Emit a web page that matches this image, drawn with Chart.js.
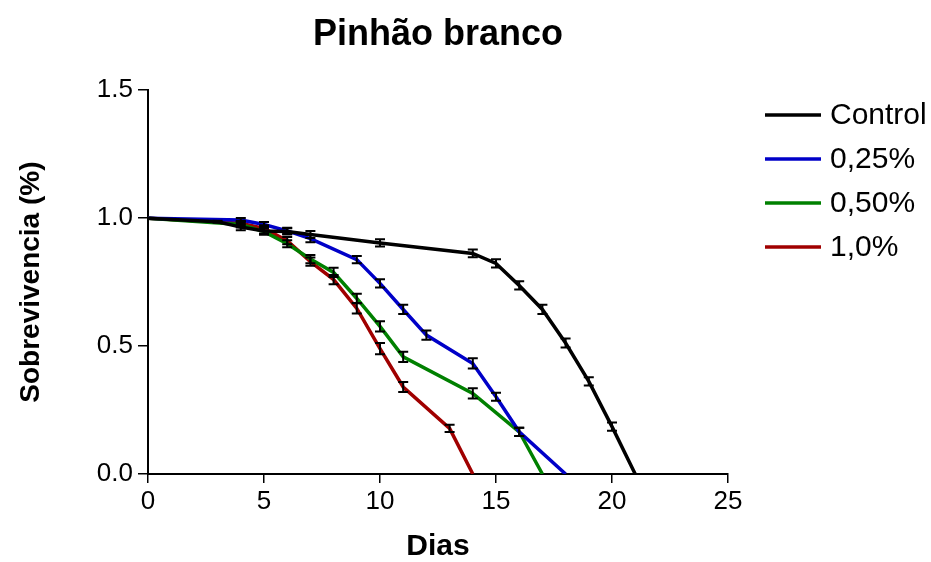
<!DOCTYPE html>
<html>
<head>
<meta charset="utf-8">
<title>Pinhão branco</title>
<script src="https://cdn.jsdelivr.net/npm/chart.js@4.4.1/dist/chart.umd.min.js"></script>
<style>
  html, body { margin: 0; padding: 0; background: #fff; }
  #chart { display: block; }
</style>
</head>
<body>
<canvas id="chart" width="931" height="562"></canvas>
<script>
// Survival data (days, fraction alive, error)
const controlDays = [0, 3, 4, 5, 6, 7, 10, 14, 15, 16, 17, 18, 19, 20, 21];
const controlVals = [1.0, 0.986, 0.965, 0.95, 0.948, 0.936, 0.903, 0.862, 0.823, 0.737, 0.643, 0.512, 0.362, 0.185, 0.0];
const controlErr  = [0, 0.004, 0.012, 0.012, 0.012, 0.014, 0.014, 0.015, 0.016, 0.016, 0.018, 0.018, 0.016, 0.016, 0];

const d025Days = [0, 4, 5, 6, 7, 9, 10, 11, 12, 14, 15, 16, 18];
const d025Vals = [1.0, 0.993, 0.975, 0.95, 0.92, 0.838, 0.745, 0.643, 0.543, 0.432, 0.302, 0.165, 0.0];
const d025Err  = [0, 0.008, 0.01, 0.012, 0.014, 0.014, 0.016, 0.018, 0.018, 0.02, 0.016, 0.016, 0];

const d050Days = [0, 4, 5, 6, 7, 8, 9, 10, 11, 14, 16, 17];
const d050Vals = [1.0, 0.975, 0.947, 0.9, 0.84, 0.788, 0.686, 0.577, 0.458, 0.315, 0.165, 0.0];
const d050Err  = [0, 0.012, 0.012, 0.014, 0.016, 0.018, 0.018, 0.02, 0.02, 0.02, 0.016, 0];

const d100Days = [0, 4, 5, 6, 7, 8, 9, 10, 11, 13, 14];
const d100Vals = [1.0, 0.98, 0.96, 0.912, 0.83, 0.76, 0.647, 0.49, 0.34, 0.178, 0.0];
const d100Err  = [0, 0.01, 0.012, 0.014, 0.016, 0.018, 0.02, 0.022, 0.02, 0.014, 0];

const seriesLabels = ['Control', '0,25%', '0,50%', '1,0%'];
const seriesColors = ['#000000', '#0000c8', '#008000', '#a00000'];

const xTicksMax = 25;
const yTicksMax = 1.5;

const FONT = '"Liberation Sans", Arial, Helvetica, sans-serif';
Chart.defaults.font.family = FONT;
Chart.defaults.color = '#000';

function toPoints(days, vals) {
  return days.map((d, i) => ({ x: d, y: vals[i] }));
}

const allDays = [controlDays, d025Days, d050Days, d100Days];
const allVals = [controlVals, d025Vals, d050Vals, d100Vals];
const allErr  = [controlErr, d025Err, d050Err, d100Err];

// Black error bars drawn on top of the lines
const errorBarPlugin = {
  id: 'errorBars',
  afterDatasetsDraw(chart) {
    const ctx = chart.ctx;
    const xs = chart.scales.x, ys = chart.scales.y;
    ctx.save();
    ctx.strokeStyle = '#000';
    ctx.lineWidth = 2;
    chart.data.datasets.forEach(ds => {
      ds.data.forEach((p, j) => {
        const e = ds.errors[j];
        if (!e) return;
        const px = xs.getPixelForValue(p.x);
        const top = ys.getPixelForValue(p.y + e);
        const bot = ys.getPixelForValue(p.y - e);
        ctx.beginPath();
        ctx.moveTo(px, top); ctx.lineTo(px, bot);
        ctx.moveTo(px - 5, top); ctx.lineTo(px + 5, top);
        ctx.moveTo(px - 5, bot); ctx.lineTo(px + 5, bot);
        ctx.stroke();
      });
    });
    ctx.restore();
  }
};

// Legend on the right, line swatch + label
const sideLegendPlugin = {
  id: 'sideLegend',
  afterDraw(chart) {
    const ctx = chart.ctx;
    const left = chart.chartArea.right + 37;
    ctx.save();
    ctx.font = '30px ' + FONT;
    ctx.textBaseline = 'middle';
    ctx.textAlign = 'left';
    chart.data.datasets.forEach((ds, i) => {
      const y = 115 + i * 44;
      ctx.strokeStyle = ds.borderColor;
      ctx.lineWidth = 3.5;
      ctx.beginPath();
      ctx.moveTo(left, y); ctx.lineTo(left + 56, y);
      ctx.stroke();
      ctx.fillStyle = '#000';
      ctx.fillText(ds.label, left + 65, y + 1);
    });
    ctx.restore();
  }
};

const datasets = seriesLabels.map((label, i) => ({
  label: label,
  data: toPoints(allDays[i], allVals[i]),
  errors: allErr[i],
  borderColor: seriesColors[i],
  backgroundColor: seriesColors[i],
  borderWidth: 3.5,
  pointRadius: 0,
  tension: 0,
  fill: false
}));

new Chart(document.getElementById('chart'), {
  type: 'line',
  data: { datasets: datasets },
  plugins: [errorBarPlugin, sideLegendPlugin],
  options: {
    responsive: false,
    animation: false,
    layout: { padding: { top: 0, right: 203, bottom: 0, left: 0 } },
    plugins: {
      legend: { display: false },
      tooltip: { enabled: false },
      title: {
        display: true,
        text: 'Pinhão branco',
        fullSize: false,
        color: '#000',
        font: { size: 36, weight: 'bold' },
        padding: { top: 13, bottom: 34 }
      }
    },
    scales: {
      x: {
        type: 'linear',
        min: 0,
        max: xTicksMax,
        afterFit(scale) { scale.height = 88; },
        ticks: { stepSize: 5, font: { size: 26 }, color: '#000', padding: 3 },
        grid: { drawOnChartArea: false, drawTicks: true, tickLength: 9, color: '#000', lineWidth: 1.5 },
        border: { display: true, color: '#000', width: 2 },
        title: { display: true, text: 'Dias', color: '#000', font: { size: 30, weight: 'bold', lineHeight: 1 }, padding: { top: 0, bottom: 0 } }
      },
      y: {
        type: 'linear',
        min: 0,
        max: yTicksMax,
        afterFit(scale) { scale.width = 148; },
        ticks: { stepSize: 0.5, font: { size: 26 }, color: '#000', padding: 5,
          callback: v => v.toFixed(1) },
        grid: { drawOnChartArea: false, drawTicks: true, tickLength: 10, color: '#000', lineWidth: 1.5 },
        border: { display: true, color: '#000', width: 2 },
        title: { display: true, text: 'Sobrevivencia (%)', color: '#000', font: { size: 28, weight: 'bold' }, padding: { top: 14, bottom: 0 } }
      }
    }
  }
});
</script>
</body>
</html>
